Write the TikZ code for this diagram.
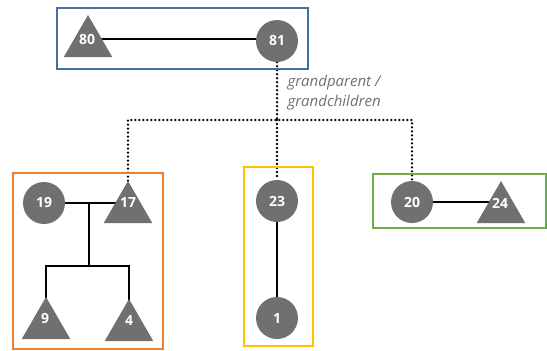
\documentclass[tikz,border=0pt]{standalone}
\usepackage{fontspec}
\setmainfont{Open Sans}
\usetikzlibrary{shapes.geometric,backgrounds}
\definecolor{nodegray}{HTML}{707070}
\definecolor{boxblue}{HTML}{41719C}
\definecolor{boxorange}{HTML}{ED7D31}
\definecolor{boxyellow}{HTML}{FFC000}
\definecolor{boxgreen}{HTML}{70AD47}
\definecolor{labgray}{HTML}{707070}
\tikzset{
  female/.style={circle,fill=nodegray,minimum size=42pt,inner sep=0pt,text=white,font=\bfseries\fontsize{14}{14}\selectfont},
  male/.style={regular polygon,regular polygon sides=3,fill=nodegray,minimum size=56pt,inner sep=0pt},
  numtext/.style={inner sep=0pt,text=white,font=\bfseries\fontsize{14}{14}\selectfont},
  famline/.style={line width=2.4pt,black},
  gpline/.style={line width=2.6pt,dash pattern=on 0pt off 4pt,line cap=round,black},
  grp/.style={line width=2pt},
}
\begin{document}
\begin{tikzpicture}[x=1pt,y=-1pt]
\useasboundingbox (0,0) rectangle (547,351);
% group boxes
\draw[grp,boxblue] (57,8) rectangle (308,69);
\draw[grp,boxorange] (13,173) rectangle (163,349);
\draw[grp,boxyellow] (244,167) rectangle (313,346);
\draw[grp,boxgreen] (373,174) rectangle (546,228);
% nodes
\node[male] (t80) at (88,43) {};
\node[numtext] (n80) at (87,39) {80};
\node[female] (c81) at (277,41) {81};
\node[female] (c19) at (44,203) {19};
\node[male] (t17) at (128,209) {};
\node[numtext] (n17) at (128,203) {17};
\node[male] (t9) at (46,325) {};
\node[numtext] (n9) at (45,319) {9};
\node[male] (t4) at (129,327) {};
\node[numtext] (n4) at (129,321) {4};
\node[female] (c23) at (277,201) {23};
\node[female] (c1) at (277,318) {1};
\node[female] (c20) at (412,202) {20};
\node[male] (t24) at (501,209) {};
\node[numtext] (n24) at (500,203) {24};
\node[anchor=west,align=left,text=labgray,font=\itshape\fontsize{15}{20}\selectfont] (lab) at (284,93) {grandparent /\\grandchildren};
% junction coordinates
\coordinate (gpbar) at (277,120);
\coordinate (cpl) at (89,203);
\coordinate (sib) at (89,266);
\begin{scope}[on background layer]
\draw[famline] (n80.center) -- (c81.center |- n80.center);
\draw[famline] (c19) -- (t17.center |- c19.center);
\draw[famline] (cpl) -- (sib);
\draw[famline] (t9.center) |- (sib) -| (t4.center);
\draw[famline] (c23) -- (c1);
\draw[famline] (c20) -- (t24.center |- c20.center);
\draw[gpline] (c81.south) -- (gpbar);
\draw[gpline] (t17.north) |- (gpbar) -| (c20.north);
\draw[gpline] (gpbar) -- (c23.north);
\end{scope}
\end{tikzpicture}
\end{document}
